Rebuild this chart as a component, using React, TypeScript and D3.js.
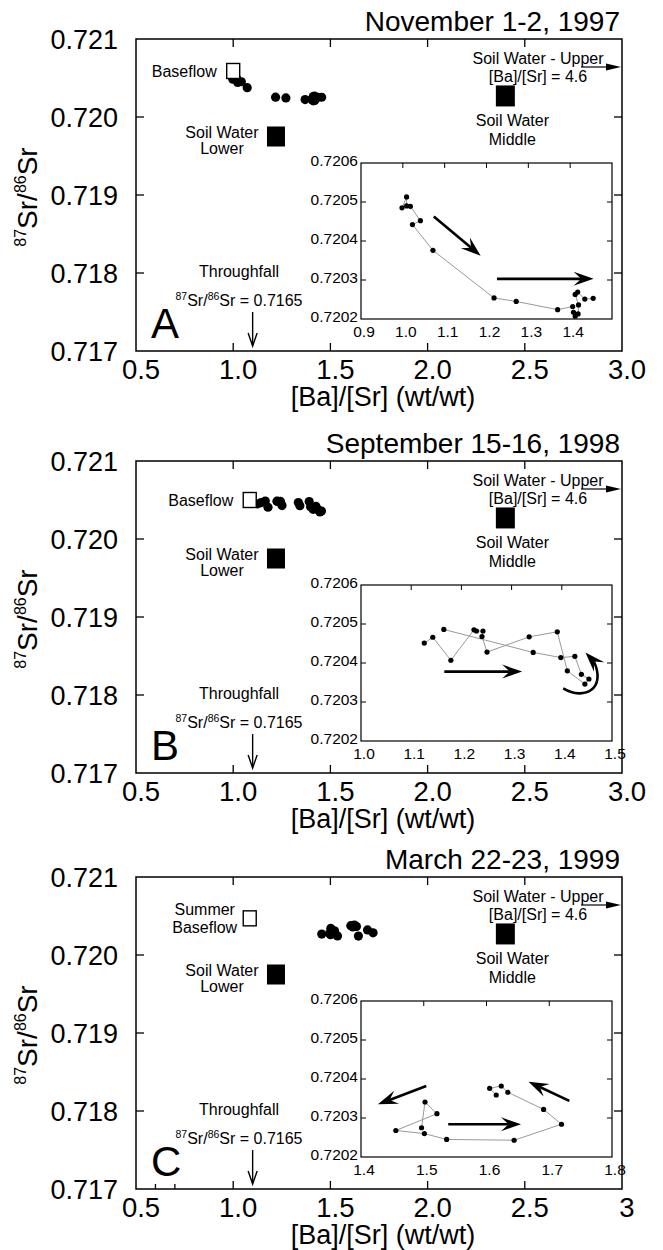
import React from "react";
import * as d3 from "d3";

const FONT = "'Liberation Sans', Arial, Helvetica, sans-serif";

// ---------- text ----------
const panelTitles = ["November 1-2, 1997", "September 15-16, 1998", "March 22-23, 1999"];
const panelLetters = ["A", "B", "C"];

// ---------- main axes ----------
const mainXDomain = [0.5, 3.0];
const mainYDomain = [0.717, 0.721];
const mainXTicks = [0.5, 1.0, 1.5, 2.0, 2.5, 3.0];
const mainXTickLabels = [
  ["0.5", "1.0", "1.5", "2.0", "2.5", "3.0"],
  ["0.5", "1.0", "1.5", "2.0", "2.5", "3.0"],
  ["0.5", "1.0", "1.5", "2.0", "2.5", "3"],
];
const mainXExtraTicks = [[], [], [0.6, 0.7]];
const mainYTicks = [0.717, 0.718, 0.719, 0.72, 0.721];
const mainYTickLabels = ["0.717", "0.718", "0.719", "0.720", "0.721"];

// ---------- inset axes ----------
const insetXDomains = [[0.9, 1.5], [1.0, 1.5], [1.4, 1.8]];
const insetXTicks = [
  [0.9, 1.0, 1.1, 1.2, 1.3, 1.4],
  [1.0, 1.1, 1.2, 1.3, 1.4, 1.5],
  [1.4, 1.5, 1.6, 1.7, 1.8],
];
const insetXTickLabels = [
  ["0.9", "1.0", "1.1", "1.2", "1.3", "1.4"],
  ["1.0", "1.1", "1.2", "1.3", "1.4", "1.5"],
  ["1.4", "1.5", "1.6", "1.7", "1.8"],
];
const insetYDomain = [0.7202, 0.7206];
const insetYTicks = [0.7202, 0.7203, 0.7204, 0.7205, 0.7206];
const insetYTickLabels = ["0.7202", "0.7203", "0.7204", "0.7205", "0.7206"];

// ---------- series: [Ba]/[Sr] and 87Sr/86Sr, in sampling order ----------
const nov97BaSr = [0.998, 1.009, 1.009, 1.018, 1.042, 1.023, 1.072, 1.218, 1.271, 1.37, 1.406, 1.408, 1.412, 1.419, 1.42, 1.412, 1.418, 1.435, 1.455];
const nov97Sr = [0.720485, 0.720513, 0.72049, 0.720489, 0.720452, 0.720442, 0.720376, 0.720254, 0.720245, 0.720224, 0.720232, 0.720217, 0.720207, 0.720213, 0.720236, 0.720263, 0.720269, 0.720251, 0.720253];

const sep98BaSr = [1.126, 1.143, 1.179, 1.225, 1.23, 1.243, 1.241, 1.251, 1.335, 1.391, 1.411, 1.446, 1.454, 1.439, 1.426, 1.398, 1.343, 1.165];
const sep98Sr = [0.720451, 0.720466, 0.720407, 0.720485, 0.720482, 0.720482, 0.720468, 0.720428, 0.720467, 0.72048, 0.72038, 0.720346, 0.720359, 0.720371, 0.720417, 0.720414, 0.720427, 0.720486];

const mar99BaSr = [1.4965, 1.502, 1.521, 1.4555, 1.501, 1.5365, 1.644, 1.7195, 1.691, 1.634, 1.6235, 1.605, 1.6155];
const mar99Sr = [0.720275, 0.720341, 0.720311, 0.720268, 0.72026, 0.720245, 0.720243, 0.720284, 0.720322, 0.720366, 0.720382, 0.720376, 0.720359];

const seriesBa = [nov97BaSr, sep98BaSr, mar99BaSr];
const seriesSr = [nov97Sr, sep98Sr, mar99Sr];

// ---------- end-members ----------
const baseflowBa = [1.0, 1.085, 1.085];
const baseflowSr = [0.72059, 0.7205, 0.72047];
const baseflowLabels = [["Baseflow"], ["Baseflow"], ["Summer", "Baseflow"]];
const soilWaterLowerBa = 1.22;
const soilWaterLowerSr = 0.71975;
const soilWaterMiddleBa = 2.4;
const soilWaterMiddleSr = 0.72027;
const soilWaterUpperRatio = "4.6";
const throughfallBa = 1.1;
const throughfallSr = "0.7165";

// ---------- inset trend arrows (data units: x1, y1, x2, y2) ----------
const insetArrows = [
  [[1.074, 0.720463, 1.186, 0.720362], [1.225, 0.720303, 1.456, 0.720303]],
  [[1.166, 0.720378, 1.321, 0.720378]],
  [[1.504, 0.720382, 1.427, 0.720335], [1.539, 0.720284, 1.655, 0.720284], [1.732, 0.720344, 1.667, 0.720393]],
];
// curved arrow in panel B: start, control1, control2, end, tip
const curvedArrowB = [[1.4028, 0.720335], [1.4458, 0.720302], [1.4888, 0.720335], [1.4689, 0.720397], [1.4471, 0.720427]];

const PANEL_TOPS = [39, 461, 877];
const FRAME_L = 136;
const FRAME_R = 622;
const FRAME_H = 312;
const INSET_L = 361;
const INSET_R = 612;
const INSET_T = 124;
const INSET_B = 280;

function headPath(x1: number, y1: number, x2: number, y2: number, L = 20, W = 7) {
  const dx = x2 - x1, dy = y2 - y1, d = Math.hypot(dx, dy);
  const ux = dx / d, uy = dy / d;
  const px = -uy, py = ux;
  const bx = x2 - ux * L, by = y2 - uy * L;
  const nx = x2 - ux * L * 0.62, ny = y2 - uy * L * 0.62;
  return {
    d: `M${x2},${y2}L${bx + px * W},${by + py * W}L${nx},${ny}L${bx - px * W},${by - py * W}Z`,
    nx,
    ny,
  };
}

function Arrow({ x1, y1, x2, y2 }: { x1: number; y1: number; x2: number; y2: number }) {
  const h = headPath(x1, y1, x2, y2);
  return (
    <g>
      <line x1={x1} y1={y1} x2={h.nx} y2={h.ny} stroke="#000" strokeWidth={2.6} />
      <path d={h.d} fill="#000" />
    </g>
  );
}

function Panel({ i }: { i: number }) {
  const top = PANEL_TOPS[i];
  const bottom = top + FRAME_H;
  const x = d3.scaleLinear().domain(mainXDomain).range([FRAME_L, FRAME_R]);
  const y = d3.scaleLinear().domain(mainYDomain).range([bottom, top]);
  const ix = d3.scaleLinear().domain(insetXDomains[i]).range([INSET_L, INSET_R]);
  const iTop = top + INSET_T;
  const iBot = top + INSET_B;
  const iy = d3.scaleLinear().domain(insetYDomain).range([iBot, iTop]);

  const ba = seriesBa[i];
  const sr = seriesSr[i];
  const pts = ba.map((b, k) => [b, sr[k]] as [number, number]);
  const line = d3.line<[number, number]>().x((d) => ix(d[0])).y((d) => iy(d[1]));

  const innerX = mainXTicks.slice(1, -1);
  const innerY = mainYTicks.slice(1, -1);
  const innerIX = insetXTicks[i].filter((t) => t > insetXDomains[i][0] + 1e-9 && t < insetXDomains[i][1] - 1e-9);
  const innerIY = insetYTicks.slice(1, -1);

  const bfx = x(baseflowBa[i]);
  const bfy = y(baseflowSr[i]);
  const slx = x(soilWaterLowerBa);
  const sly = y(soilWaterLowerSr);
  const smx = x(soilWaterMiddleBa);
  const smy = y(soilWaterMiddleSr);
  const tfx = x(throughfallBa);

  let curved: React.ReactNode = null;
  if (i === 1) {
    const c = curvedArrowB.map((p) => [ix(p[0]), iy(p[1])]);
    const h = headPath(c[3][0], c[3][1], c[4][0], c[4][1], 20, 7);
    const p = d3.path();
    p.moveTo(c[0][0], c[0][1]);
    p.bezierCurveTo(c[1][0], c[1][1], c[2][0], c[2][1], h.nx, h.ny);
    curved = (
      <g>
        <path d={p.toString()} fill="none" stroke="#000" strokeWidth={2.6} />
        <path d={h.d} fill="#000" />
      </g>
    );
  }

  return (
    <g fontFamily={FONT} fill="#000">
      <text x={620} y={top - 8} fontSize={28} textAnchor="end">{panelTitles[i]}</text>

      <rect x={FRAME_L} y={top} width={FRAME_R - FRAME_L} height={FRAME_H} fill="none" stroke="#000" strokeWidth={1.5} />
      {innerX.map((t) => (
        <g key={"tx" + t}>
          <line x1={x(t)} x2={x(t)} y1={top} y2={top + 8} stroke="#000" strokeWidth={1.3} />
          <line x1={x(t)} x2={x(t)} y1={bottom} y2={bottom - 8} stroke="#000" strokeWidth={1.3} />
        </g>
      ))}
      {mainXExtraTicks[i].map((t) => (
        <line key={"ex" + t} x1={x(t)} x2={x(t)} y1={bottom} y2={bottom - 5} stroke="#000" strokeWidth={1.3} />
      ))}
      {innerY.map((t) => (
        <g key={"ty" + t}>
          <line x1={FRAME_L} x2={FRAME_L + 8} y1={y(t)} y2={y(t)} stroke="#000" strokeWidth={1.3} />
          <line x1={FRAME_R} x2={FRAME_R - 8} y1={y(t)} y2={y(t)} stroke="#000" strokeWidth={1.3} />
        </g>
      ))}
      {mainXTicks.map((t, k) => (
        <text key={"xl" + t} x={x(t) + 5} y={bottom + 28} fontSize={27.5} textAnchor="middle">{mainXTickLabels[i][k]}</text>
      ))}
      {mainYTicks.map((t, k) => (
        <text key={"yl" + t} x={118} y={y(t) + 9.5} fontSize={27} textAnchor="end">{mainYTickLabels[k]}</text>
      ))}
      <text x={(FRAME_L + FRAME_R) / 2 + 4} y={bottom + 55} fontSize={27} textAnchor="middle">[Ba]/[Sr] (wt/wt)</text>
      <text transform={`translate(37,${top + 158}) rotate(-90)`} textAnchor="middle" fontSize={28}>
        <tspan fontSize={16} dy={-11}>87</tspan>
        <tspan dy={11}>Sr/</tspan>
        <tspan fontSize={16} dy={-11}>86</tspan>
        <tspan dy={11}>Sr</tspan>
      </text>

      <text x={151} y={bottom - 13} fontSize={42}>{panelLetters[i]}</text>

      {pts.map((p, k) => (
        <circle key={"m" + k} cx={x(p[0])} cy={y(p[1])} r={4.6} fill="#000" />
      ))}

      <rect x={bfx - 6.5} y={bfy - 7.5} width={13} height={15} fill="#fff" stroke="#000" strokeWidth={1.4} />
      {baseflowLabels[i].length === 1 ? (
        <text x={bfx - 6.5 - 10} y={bfy + 6} fontSize={16} textAnchor="end">{baseflowLabels[i][0]}</text>
      ) : (
        <g>
          <text x={bfx - 45} y={bfy - 3} fontSize={16} textAnchor="middle">{baseflowLabels[i][0]}</text>
          <text x={bfx - 45} y={bfy + 15} fontSize={16} textAnchor="middle">{baseflowLabels[i][1]}</text>
        </g>
      )}

      <rect x={slx - 9} y={sly - 10} width={18} height={20} fill="#000" />
      <text x={slx - 54} y={sly + 1} fontSize={16} textAnchor="middle">Soil Water</text>
      <text x={slx - 54} y={sly + 17} fontSize={16} textAnchor="middle">Lower</text>

      <rect x={smx - 9.5} y={smy - 10.5} width={19} height={21} fill="#000" />
      <text x={smx + 7} y={smy + 30.5} fontSize={16} textAnchor="middle">Soil Water</text>
      <text x={smx + 7} y={smy + 49.5} fontSize={16} textAnchor="middle">Middle</text>

      <text x={538} y={top + 25} fontSize={16} textAnchor="middle">Soil Water - Upper</text>
      <text x={538} y={top + 43} fontSize={16} textAnchor="middle">[Ba]/[Sr] = {soilWaterUpperRatio}</text>
      <line x1={581} x2={608} y1={top + 28} y2={top + 28} stroke="#000" strokeWidth={1.2} />
      <path d={`M621,${top + 28}L606,${top + 24.5}L606,${top + 31.5}Z`} fill="#000" />

      <text x={239} y={top + 238} fontSize={16} textAnchor="middle">Throughfall</text>
      <text x={239} y={top + 267} fontSize={16} textAnchor="middle">
        <tspan fontSize={10.5} dy={-6}>87</tspan>
        <tspan dy={6}>Sr/</tspan>
        <tspan fontSize={10.5} dy={-6}>86</tspan>
        <tspan dy={6}>Sr = {throughfallSr}</tspan>
      </text>
      <line x1={tfx} x2={tfx} y1={top + 273} y2={top + 306} stroke="#000" strokeWidth={1.4} />
      <path d={`M${tfx - 4.5},${top + 294}L${tfx},${top + 307}L${tfx + 4.5},${top + 294}`} fill="none" stroke="#000" strokeWidth={1.4} />

      <rect x={INSET_L} y={iTop} width={INSET_R - INSET_L} height={INSET_B - INSET_T} fill="#fff" stroke="#000" strokeWidth={1.2} />
      {innerIX.map((t) => (
        <line key={"itx" + t} x1={ix(t)} x2={ix(t)} y1={iTop} y2={iTop + 5} stroke="#000" strokeWidth={1} />
      ))}
      {innerIY.map((t) => (
        <g key={"ity" + t}>
          <line x1={INSET_L} x2={INSET_L + 5} y1={iy(t)} y2={iy(t)} stroke="#000" strokeWidth={1} />
          <line x1={INSET_R} x2={INSET_R - 5} y1={iy(t)} y2={iy(t)} stroke="#000" strokeWidth={1} />
        </g>
      ))}
      {insetXTicks[i].map((t, k) => (
        <text key={"ixl" + t} x={ix(t) + 3} y={iBot + 18} fontSize={15.5} textAnchor="middle">{insetXTickLabels[i][k]}</text>
      ))}
      {insetYTicks.map((t, k) => (
        <text key={"iyl" + t} x={358} y={iy(t) + 2.5} fontSize={15.5} textAnchor="end">{insetYTickLabels[k]}</text>
      ))}
      <path d={line(pts) || ""} fill="none" stroke="#999" strokeWidth={1} />
      {pts.map((p, k) => (
        <circle key={"i" + k} cx={ix(p[0])} cy={iy(p[1])} r={2.6} fill="#000" />
      ))}
      {insetArrows[i].map((a, k) => (
        <Arrow key={"ar" + k} x1={ix(a[0])} y1={iy(a[1])} x2={ix(a[2])} y2={iy(a[3])} />
      ))}
      {curved}
    </g>
  );
}

export default function App() {
  return (
    <svg
      width={663}
      height={1250}
      viewBox="0 0 663 1250"
      style={{ position: "absolute", left: 0, top: 0, background: "#fff", display: "block" }}
    >
      <rect x={0} y={0} width={663} height={1250} fill="#fff" />
      {[0, 1, 2].map((i) => (
        <Panel key={i} i={i} />
      ))}
    </svg>
  );
}
